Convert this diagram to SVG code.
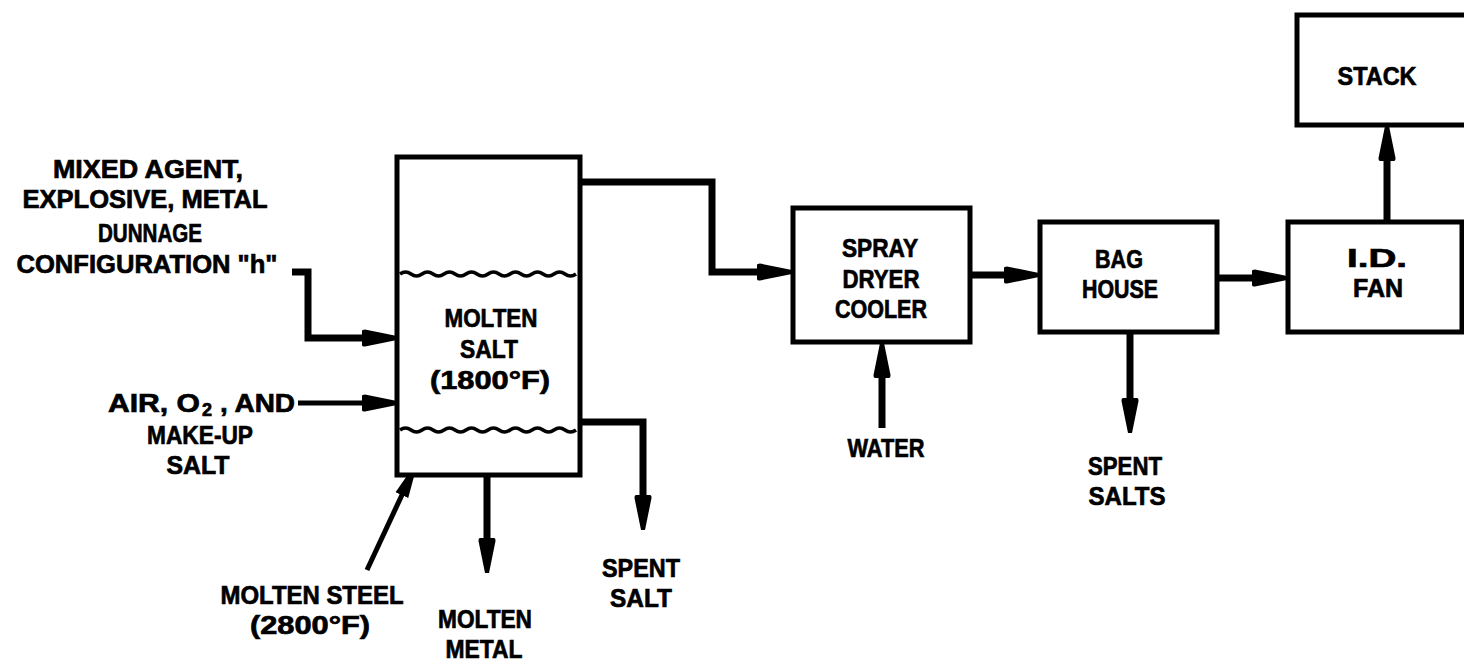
<svg xmlns="http://www.w3.org/2000/svg" width="1464" height="665" viewBox="0 0 1464 665">
<style>
.t{font-family:"Liberation Sans",Arial,sans-serif;font-weight:bold;font-size:26.5px;fill:#000;stroke:#000;stroke-width:0.7;text-anchor:middle}
.ts{font-family:"Liberation Sans",Arial,sans-serif;font-weight:bold;font-size:26.5px;fill:#000;stroke:#000;stroke-width:0.7}
.box{fill:#fff;stroke:#000;stroke-width:5}
.c{fill:none;stroke:#000;stroke-width:7;stroke-linejoin:miter}
.thin{stroke-width:5}
.wave{fill:none;stroke:#000;stroke-width:3.5}
</style>
<defs>
<marker id="ah" markerUnits="userSpaceOnUse" markerWidth="36" markerHeight="20" viewBox="0 0 36 20" refX="1" refY="10" orient="auto">
<path d="M0,3 Q0,1.5 3,1.5 L35,8 L35,12 L3,18.5 Q0,18.5 0,17 Z" fill="#000"/>
</marker>
<marker id="ahs" markerUnits="userSpaceOnUse" markerWidth="32" markerHeight="18" viewBox="0 0 32 18" refX="1" refY="9" orient="auto">
<path d="M0,2 L31,7.5 L31,10.5 L0,16 Z" fill="#000"/>
</marker>
</defs>
<rect width="1464" height="665" fill="#fff"/>

<g id="connectors">
<path class="c" d="M292,272 H308 V338 H363" marker-end="url(#ah)"/>
<path class="c thin" d="M298,403 H363" marker-end="url(#ah)"/>
<path class="c" d="M580,182 H712 V272 H758" marker-end="url(#ah)"/>
<path class="c" d="M970,275 H1005" marker-end="url(#ah)"/>
<path class="c" d="M1217,278 H1253" marker-end="url(#ah)"/>
<path class="c" d="M1387,222 V160" marker-end="url(#ah)"/>
<path class="c" d="M882,428 V377" marker-end="url(#ah)"/>
<path class="c" d="M1130,332 V399" marker-end="url(#ah)"/>
<path class="c" d="M580,422 H643 V496" marker-end="url(#ah)"/>
<path class="c" d="M487,475 V539" marker-end="url(#ah)"/>
<path class="c thin" d="M367,570 L402.3,494.2" marker-end="url(#ahs)"/>
</g>

<g id="furnace">
<rect class="box" x="397" y="157" width="183" height="318"/>
<path class="wave" d="M400,274 q5.5,-4 11,0 t11,0 t11,0 t11,0 t11,0 t11,0 t11,0 t11,0 t11,0 t11,0 t11,0 t11,0 t11,0 t11,0 t11,0 t11,0"/>
<path class="wave" d="M400,430 q5.5,-4 11,0 t11,0 t11,0 t11,0 t11,0 t11,0 t11,0 t11,0 t11,0 t11,0 t11,0 t11,0 t11,0 t11,0 t11,0 t11,0"/>
<text class="t" x="491" y="327" textLength="93" lengthAdjust="spacingAndGlyphs">MOLTEN</text>
<text class="t" x="489" y="358" textLength="58" lengthAdjust="spacingAndGlyphs">SALT</text>
<text class="t" x="490" y="389" textLength="120" lengthAdjust="spacingAndGlyphs">(1800°F)</text>
</g>

<g id="spray-dryer">
<rect class="box" x="793" y="208" width="177" height="134"/>
<text class="t" x="880" y="257" textLength="76" lengthAdjust="spacingAndGlyphs">SPRAY</text>
<text class="t" x="881" y="288" textLength="77" lengthAdjust="spacingAndGlyphs">DRYER</text>
<text class="t" x="881" y="318" textLength="92" lengthAdjust="spacingAndGlyphs">COOLER</text>
</g>

<g id="bag-house">
<rect class="box" x="1040" y="222" width="177" height="110"/>
<text class="t" x="1119" y="268" textLength="48" lengthAdjust="spacingAndGlyphs">BAG</text>
<text class="t" x="1120" y="298" textLength="76" lengthAdjust="spacingAndGlyphs">HOUSE</text>
</g>

<g id="id-fan">
<rect class="box" x="1288" y="222" width="174" height="110"/>
<text class="t" x="1377" y="267" textLength="60" lengthAdjust="spacingAndGlyphs">I.D.</text>
<text class="t" x="1378" y="297" textLength="50" lengthAdjust="spacingAndGlyphs">FAN</text>
</g>

<g id="stack">
<rect class="box" x="1297" y="15" width="180" height="110"/>
<text class="t" x="1377" y="85" textLength="79" lengthAdjust="spacingAndGlyphs">STACK</text>
</g>

<g id="feed-label">
<text class="t" x="148" y="178" textLength="190" lengthAdjust="spacingAndGlyphs">MIXED AGENT,</text>
<text class="t" x="145" y="208" textLength="245" lengthAdjust="spacingAndGlyphs">EXPLOSIVE, METAL</text>
<text class="t" x="150" y="242" textLength="104" lengthAdjust="spacingAndGlyphs">DUNNAGE</text>
<text class="t" x="147" y="273" textLength="261" lengthAdjust="spacingAndGlyphs">CONFIGURATION "h"</text>
</g>

<g id="air-label">
<text class="ts" x="108" y="412" textLength="92" lengthAdjust="spacingAndGlyphs">AIR, O</text>
<text class="ts" x="202" y="416" style="font-size:18px">2</text>
<text class="ts" x="220" y="412" textLength="75" lengthAdjust="spacingAndGlyphs">, AND</text>
<text class="t" x="200" y="444" textLength="106" lengthAdjust="spacingAndGlyphs">MAKE-UP</text>
<text class="t" x="198" y="474" textLength="63" lengthAdjust="spacingAndGlyphs">SALT</text>
</g>

<g id="molten-steel-label">
<text class="t" x="312" y="604" textLength="183" lengthAdjust="spacingAndGlyphs">MOLTEN STEEL</text>
<text class="t" x="310" y="634" textLength="120" lengthAdjust="spacingAndGlyphs">(2800°F)</text>
</g>

<g id="molten-metal-label">
<text class="t" x="485" y="628" textLength="94" lengthAdjust="spacingAndGlyphs">MOLTEN</text>
<text class="t" x="484" y="658" textLength="77" lengthAdjust="spacingAndGlyphs">METAL</text>
</g>

<g id="spent-salt-label">
<text class="t" x="641" y="577" textLength="78" lengthAdjust="spacingAndGlyphs">SPENT</text>
<text class="t" x="641" y="607" textLength="62" lengthAdjust="spacingAndGlyphs">SALT</text>
</g>

<g id="water-label">
<text class="t" x="886" y="457" textLength="77" lengthAdjust="spacingAndGlyphs">WATER</text>
</g>

<g id="spent-salts-label">
<text class="t" x="1125" y="475" textLength="74" lengthAdjust="spacingAndGlyphs">SPENT</text>
<text class="t" x="1127" y="505" textLength="77" lengthAdjust="spacingAndGlyphs">SALTS</text>
</g>
</svg>
